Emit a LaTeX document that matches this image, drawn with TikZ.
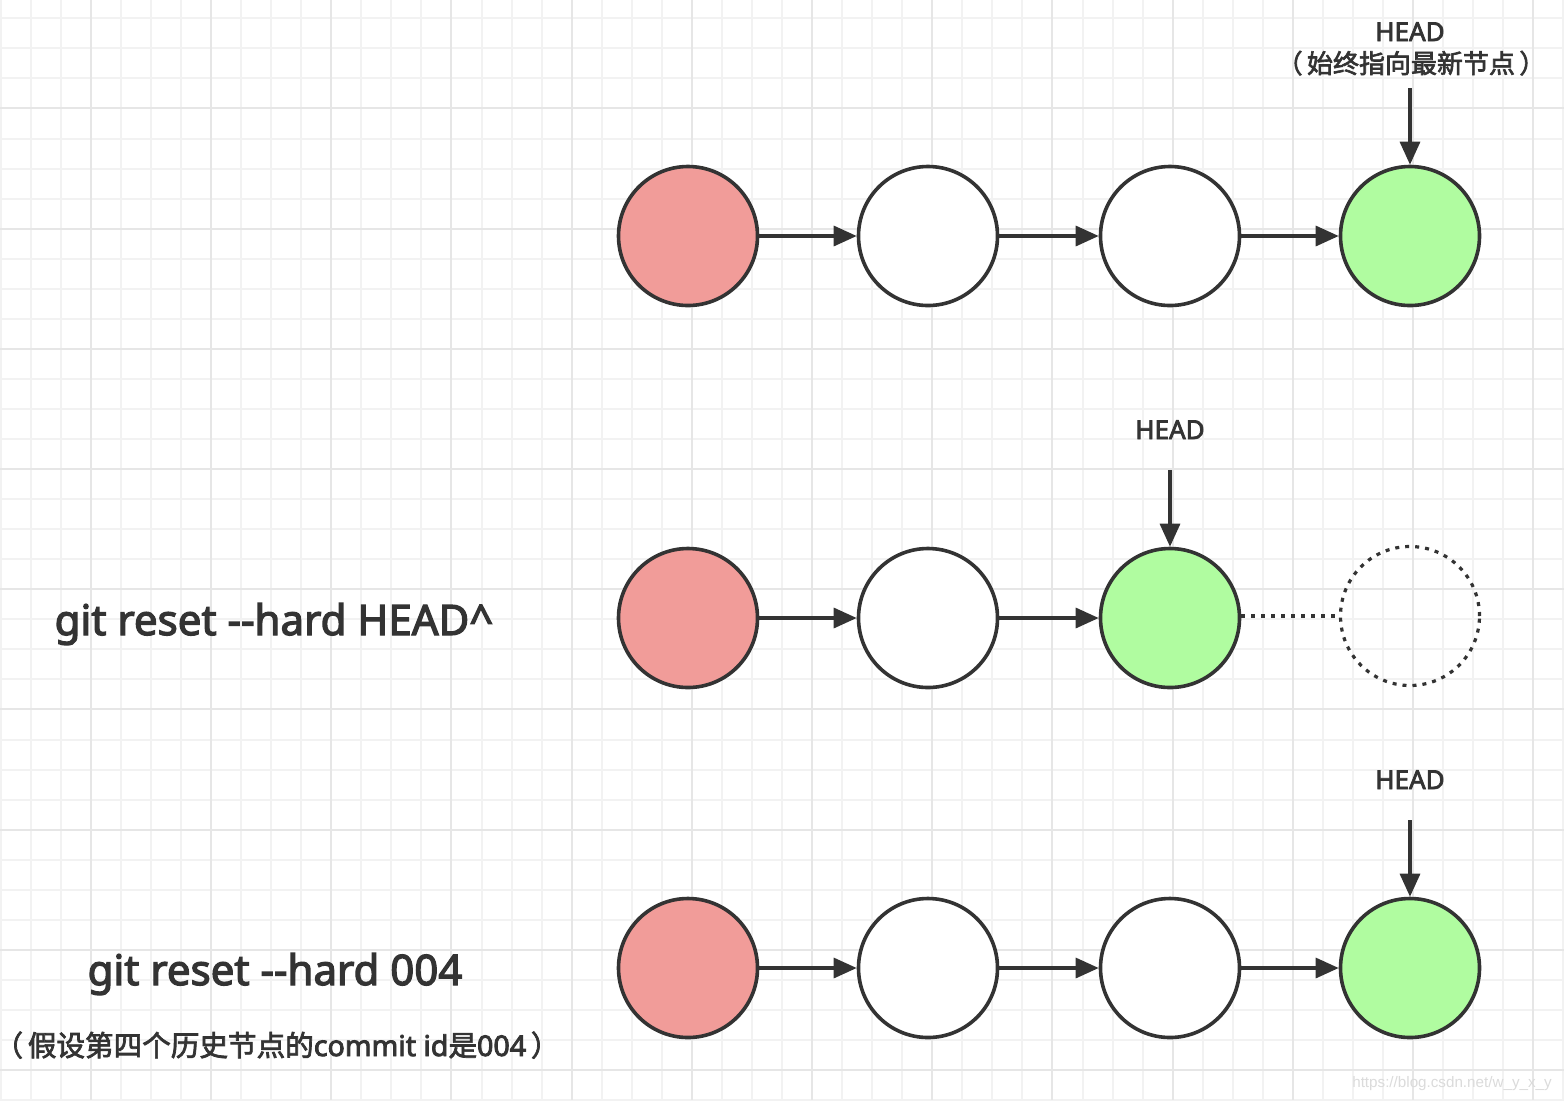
\documentclass[tikz,border=0pt]{standalone}
\usepackage{fontspec}
\setmainfont{Noto Sans}[Ligatures=TeXOff, FakeBold=3]
\newfontfamily\cjk{Noto Sans CJK SC}[FakeBold=2.5]
\newfontfamily\wmfont{Liberation Sans}
\usetikzlibrary{arrows.meta}
\definecolor{strokec}{HTML}{333333}
\definecolor{redfill}{HTML}{F19C99}
\definecolor{greenfill}{HTML}{B0FCA0}
\definecolor{gridminor}{HTML}{F2F2F2}
\definecolor{gridmajor}{HTML}{E6E6E6}
\begin{document}
\begin{tikzpicture}[x=0.5pt,y=-0.5pt,
  commit/.style={circle, draw=strokec, line width=1.8pt, minimum size=69.5pt, inner sep=0pt},
  redc/.style={commit, fill=redfill},
  whitec/.style={commit, fill=white},
  greenc/.style={commit, fill=greenfill},
  ghostc/.style={circle, draw=strokec, line width=1.6pt, dash pattern=on 2pt off 3pt, minimum size=69.5pt, inner sep=0pt},
  link/.style={draw=strokec, line width=1.6pt, -{Triangle[length=11.5pt,width=10pt]}},
  ghostlink/.style={draw=strokec, line width=1.6pt, dash pattern=on 2pt off 3pt},
  lbl/.style={text=strokec, font=\fontsize{13}{15}\selectfont, inner sep=0pt},
  biglbl/.style={text=strokec, font=\fontsize{21}{25}\selectfont, inner sep=0pt},
  notelbl/.style={text=strokec, font=\fontsize{14.3}{17}\selectfont, inner sep=0pt},
  wm/.style={text=black!14, font=\wmfont\fontsize{7.6}{9}\selectfont, inner sep=0pt}
]
\useasboundingbox[fill=white] (0,0) rectangle (1564,1100);
% grid
\foreach \k in {0,...,52} {\draw[gridminor, line width=1pt] ({0.7+30.05*\k},0) -- ({0.7+30.05*\k},1100);}
\foreach \k in {0,...,36} {\draw[gridminor, line width=1pt] (0,{18.3+30.05*\k}) -- (1564,{18.3+30.05*\k});}
\foreach \k in {3,7,...,51} {\draw[gridmajor, line width=1pt] ({0.7+30.05*\k},0) -- ({0.7+30.05*\k},1100);}
\foreach \k in {3,7,...,35} {\draw[gridmajor, line width=1pt] (0,{18.3+30.05*\k}) -- (1564,{18.3+30.05*\k});}

% row 1
\node[redc] (r1c1) at (688,236) {};
\node[whitec] (r1c2) at (928,236) {};
\node[whitec] (r1c3) at (1170,236) {};
\node[greenc] (r1c4) at (1410,236) {};
\draw[link] (r1c1) -- (r1c2);
\draw[link] (r1c2) -- (r1c3);
\draw[link] (r1c3) -- (r1c4);
\node[lbl, anchor=base] (head1) at (1410,41) {HEAD};
\node[lbl, anchor=base] (note1) at (1411,73) {\cjk （\,始终指向最新节点\,）};
\coordinate (h1s) at (1410,88);
\draw[link] (h1s) -- (r1c4);

% row 2
\node[redc] (r2c1) at (688,618) {};
\node[whitec] (r2c2) at (928,618) {};
\node[greenc] (r2c3) at (1170,618) {};
\node[ghostc] (r2c4) at (1410,616) {};
\draw[link] (r2c1) -- (r2c2);
\draw[link] (r2c2) -- (r2c3);
\draw[ghostlink] (r2c3.east |- r2c4.west) -- (r2c4.west);
\node[lbl, anchor=base] (head2) at (1170,439) {HEAD};
\coordinate (h2s) at (1170,470);
\draw[link] (h2s) -- (r2c3);
\node[biglbl, anchor=base] (cmd1) at (274,635) {git reset --hard HEAD\textasciicircum};

% row 3
\node[redc] (r3c1) at (688,968) {};
\node[whitec] (r3c2) at (928,968) {};
\node[whitec] (r3c3) at (1170,968) {};
\node[greenc] (r3c4) at (1410,968) {};
\draw[link] (r3c1) -- (r3c2);
\draw[link] (r3c2) -- (r3c3);
\draw[link] (r3c3) -- (r3c4);
\node[lbl, anchor=base] (head3) at (1410,789) {HEAD};
\coordinate (h3s) at (1410,820);
\draw[link] (h3s) -- (r3c4);
\node[biglbl, anchor=base] (cmd2) at (275,985) {git reset --hard 004};
\node[notelbl, anchor=base] (note2) at (277,1056) {{\cjk （\,假设第四个历史节点的}commit id{\cjk 是}004{\cjk \,）}};

\node[wm, anchor=base] (wmark) at (1452,1087) {https://blog.csdn.net/w\_y\_x\_y};
\end{tikzpicture}
\end{document}
